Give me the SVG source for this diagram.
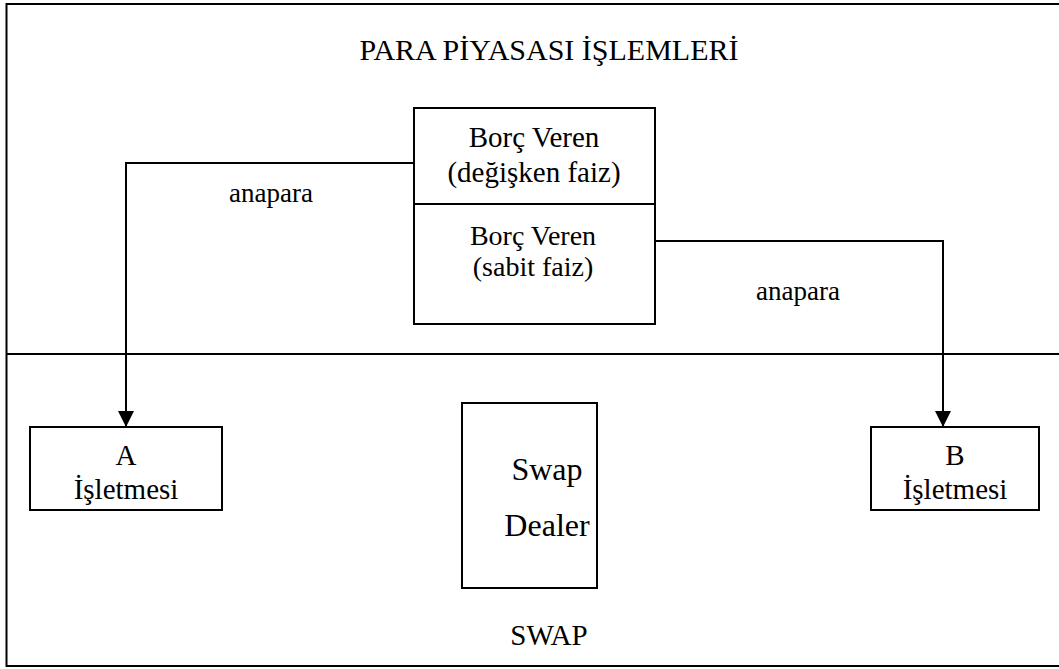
<svg xmlns="http://www.w3.org/2000/svg" width="1059" height="669" viewBox="0 0 1059 669">
  <style>
    .box { fill: #ffffff; stroke: #000000; stroke-width: 2; }
    .line { fill: none; stroke: #000000; stroke-width: 2; }
    text { font-family: "Liberation Serif", "Times New Roman", serif; fill: #000000; text-anchor: middle; }
    .t27 { font-size: 27px; }
    .t28 { font-size: 28px; }
    .t29 { font-size: 29px; }
    .t30 { font-size: 30px; }
    .t32 { font-size: 32px; }
  </style>
  <defs>
    <marker id="arrow" markerUnits="userSpaceOnUse" markerWidth="16" markerHeight="17" refX="15" refY="8" orient="auto">
      <path d="M0,0 L16,8 L0,16 Z" fill="#000000"/>
    </marker>
  </defs>
  <rect width="1059" height="669" fill="#ffffff"/>

  <!-- outer frame (right side runs past the page) and the market / swap divider -->
  <g id="frame">
    <path class="line" d="M1062,4 H6.5 V666 H1062"/>
    <line class="line" x1="6.5" y1="354" x2="1062" y2="354"/>
    <text class="t30" x="549" y="60">PARA PİYASASI İŞLEMLERİ</text>
    <text class="t29" x="549" y="645">SWAP</text>
  </g>

  <!-- connectors -->
  <g id="connectors">
    <path class="line" d="M414,163 H126 V426" marker-end="url(#arrow)"/>
    <path class="line" d="M655,241 H943 V426" marker-end="url(#arrow)"/>
    <text class="t27" x="271" y="202">anapara</text>
    <text class="t27" x="798" y="300">anapara</text>
  </g>

  <g id="lender-floating">
    <rect class="box" x="414" y="108" width="241" height="96"/>
    <text class="t29" x="534" y="147">Borç Veren</text>
    <text class="t29" x="534" y="182">(değişken faiz)</text>
  </g>

  <g id="lender-fixed">
    <rect class="box" x="414" y="204" width="241" height="120"/>
    <text class="t28" x="533" y="245">Borç Veren</text>
    <text class="t28" x="533" y="276">(sabit faiz)</text>
  </g>

  <g id="firm-a">
    <rect class="box" x="30" y="427" width="192" height="83"/>
    <text class="t29" x="126" y="465">A</text>
    <text class="t29" x="126" y="499">İşletmesi</text>
  </g>

  <g id="swap-dealer">
    <rect class="box" x="462" y="403" width="135" height="185"/>
    <text class="t32" x="547" y="480">Swap</text>
    <text class="t32" x="547" y="536">Dealer</text>
  </g>

  <g id="firm-b">
    <rect class="box" x="871" y="427" width="168" height="83"/>
    <text class="t29" x="955" y="465">B</text>
    <text class="t29" x="955" y="499">İşletmesi</text>
  </g>
</svg>
